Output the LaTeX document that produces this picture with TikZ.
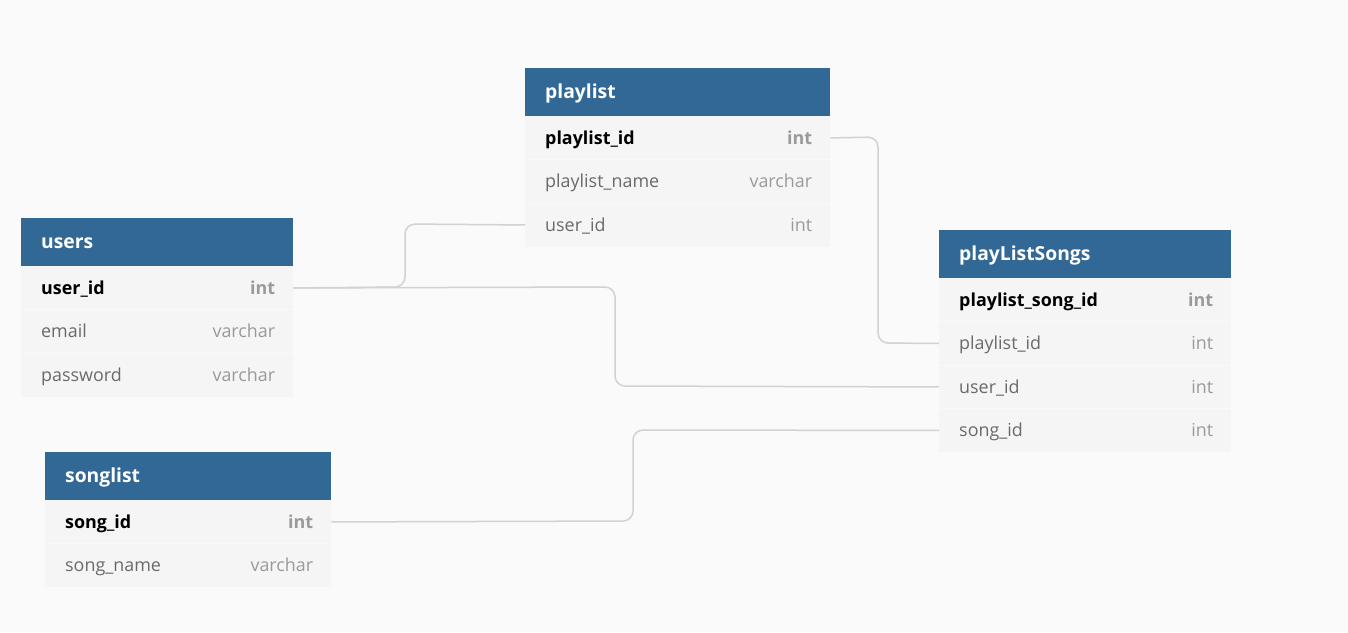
\documentclass[tikz,border=0pt]{standalone}
\usepackage{fontspec}
\setmainfont{Open Sans}
\definecolor{pagebg}{HTML}{FAFAFA}
\definecolor{hdrblue}{HTML}{316896}
\definecolor{rowbg}{HTML}{F5F5F5}
\definecolor{rowsep}{HTML}{F9F9F9}
\definecolor{fieldgrey}{HTML}{6A6A6A}
\definecolor{typegrey}{HTML}{9A9A9A}
\definecolor{linkgrey}{HTML}{D2D2D2}
\tikzset{
  hdrbox/.style={fill=hdrblue, draw=none, minimum height=48pt, anchor=north west, inner sep=0pt},
  rowbox/.style={fill=rowbg, draw=none, minimum height=43.5pt, anchor=north west, inner sep=0pt},
  hdrtxt/.style={text=white, font=\fontsize{19.3}{23}\selectfont\bfseries, inner sep=0pt, anchor=base west},
  fieldtxt/.style={text=fieldgrey, font=\fontsize{17.9}{21}\selectfont, inner sep=0pt, anchor=base west},
  typetxt/.style={text=typegrey, font=\fontsize{17.9}{21}\selectfont, inner sep=0pt, anchor=base east},
  pkfield/.style={fieldtxt, text=black, font=\fontsize{17.9}{21}\selectfont\bfseries},
  pktype/.style={typetxt, font=\fontsize{17.9}{21}\selectfont\bfseries},
  link/.style={draw=linkgrey, line width=1.5pt, rounded corners=10pt},
  sepline/.style={draw=rowsep, line width=1pt}
}
\newcommand{\erhdr}[5]{% id, x, y, width, title
  \node[hdrbox, minimum width=#4] (#1) at (#2,#3) {};
  \node[hdrtxt] (#1-t) at ([xshift=20pt,yshift=-6.5pt]#1.west) {#5};
}
\newcommand{\errow}[8]{% id, x, y, width, field, type, fieldstyle, typestyle
  \node[rowbox, minimum width=#4] (#1) at (#2,#3) {};
  \node[#7] (#1-f) at ([xshift=20pt,yshift=-6.5pt]#1.west) {#5};
  \node[#8] (#1-y) at ([xshift=-18pt,yshift=-6.5pt]#1.east) {#6};
}
\begin{document}
\begin{tikzpicture}[x=1pt,y=-1pt]
\fill[pagebg] (0,0) rectangle (1348,632);
\useasboundingbox (0,0) rectangle (1348,632);

% playlist
\erhdr{pl}{525}{68}{305pt}{playlist}
\errow{pl1}{525}{116}{305pt}{playlist\_id}{int}{pkfield}{pktype}
\errow{pl2}{525}{159.5}{305pt}{playlist\_name}{varchar}{fieldtxt}{typetxt}
\errow{pl3}{525}{203}{305pt}{user\_id}{int}{fieldtxt}{typetxt}
\draw[sepline] (pl2.north west) -- (pl2.north east);
\draw[sepline] (pl3.north west) -- (pl3.north east);

% users
\erhdr{us}{21}{218}{272pt}{users}
\errow{us1}{21}{266}{272pt}{user\_id}{int}{pkfield}{pktype}
\errow{us2}{21}{309.5}{272pt}{email}{varchar}{fieldtxt}{typetxt}
\errow{us3}{21}{353}{272pt}{password}{varchar}{fieldtxt}{typetxt}
\draw[sepline] (us2.north west) -- (us2.north east);
\draw[sepline] (us3.north west) -- (us3.north east);

% playListSongs
\erhdr{ps}{939}{230}{292pt}{playListSongs}
\errow{ps1}{939}{278}{292pt}{playlist\_song\_id}{int}{pkfield}{pktype}
\errow{ps2}{939}{321.5}{292pt}{playlist\_id}{int}{fieldtxt}{typetxt}
\errow{ps3}{939}{365}{292pt}{user\_id}{int}{fieldtxt}{typetxt}
\errow{ps4}{939}{408.5}{292pt}{song\_id}{int}{fieldtxt}{typetxt}
\draw[sepline] (ps2.north west) -- (ps2.north east);
\draw[sepline] (ps3.north west) -- (ps3.north east);
\draw[sepline] (ps4.north west) -- (ps4.north east);

% songlist
\erhdr{sl}{45}{452}{286pt}{songlist}
\errow{sl1}{45}{500}{286pt}{song\_id}{int}{pkfield}{pktype}
\errow{sl2}{45}{543.5}{286pt}{song\_name}{varchar}{fieldtxt}{typetxt}
\draw[sepline] (sl2.north west) -- (sl2.north east);

% connectors
\draw[link] (pl1.east) -- (878,137) -- (878,343) -- (ps2.west);
\draw[link] (us1.east) -- (405,287) -- (405,224) -- (pl3.west);
\draw[link] (us1.east) -- (615,287) -- (615,386) -- (ps3.west);
\draw[link] (sl1.east) -- (633,521) -- (633,430) -- (ps4.west);
\end{tikzpicture}
\end{document}
